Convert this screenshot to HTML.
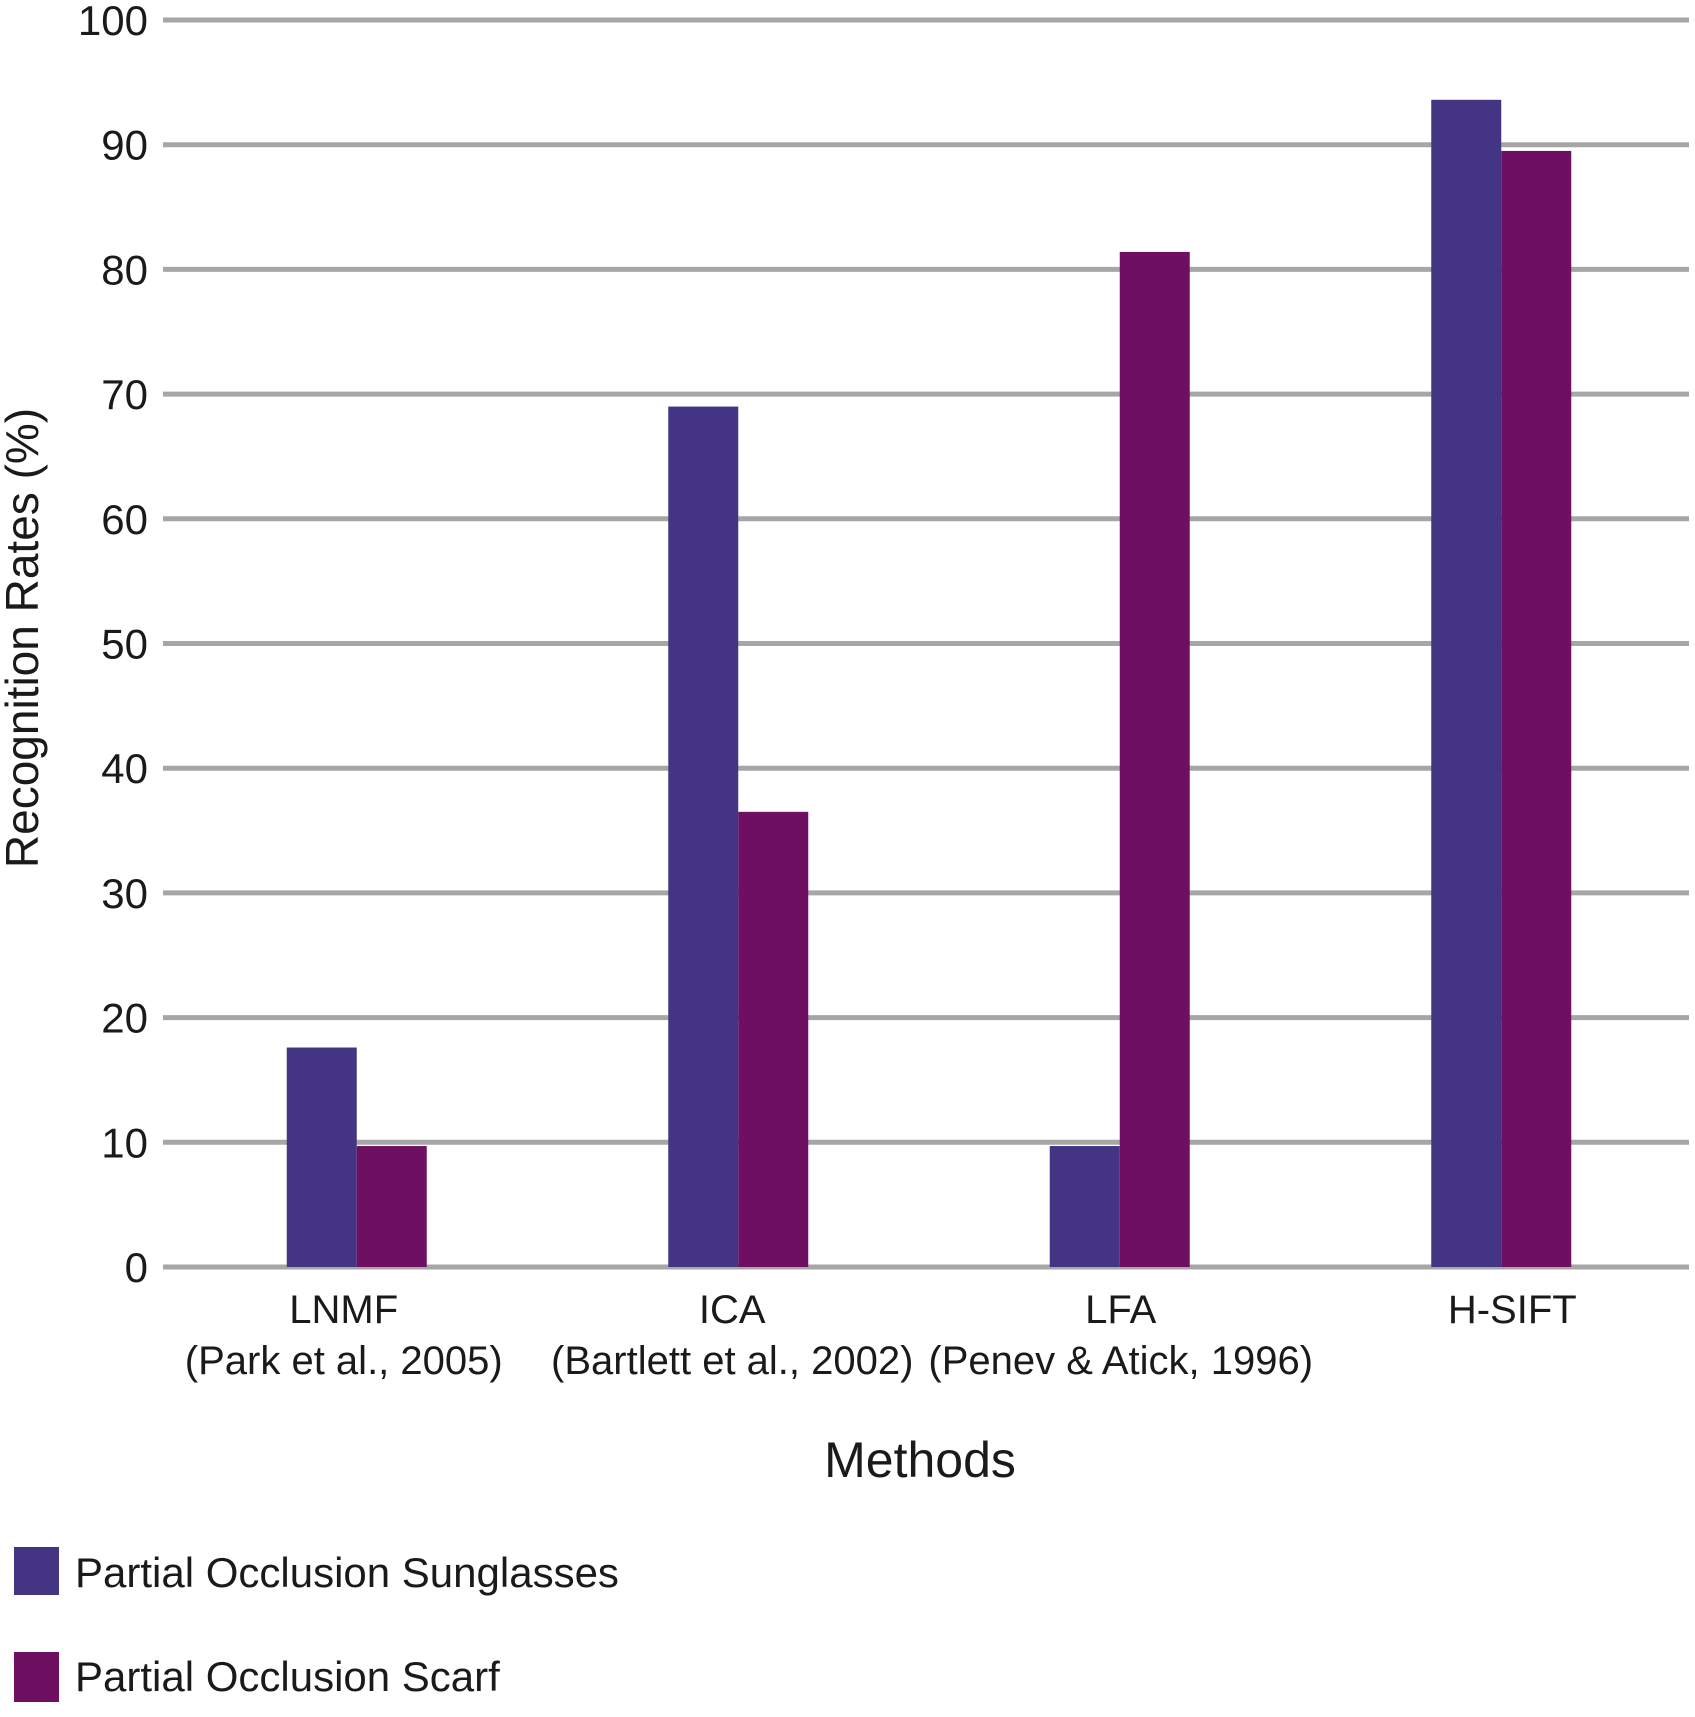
<!DOCTYPE html>
<html><head><meta charset="utf-8"><style>
body{margin:0;background:#fff;}
svg{display:block;font-family:"Liberation Sans",Arial,sans-serif;}
</style></head><body>
<svg id="chart" width="1695" height="1717" viewBox="0 0 1695 1717">
<g id="grid"></g>
<g id="ylabels"></g>
<g id="bars"></g>
<g id="xlabels"></g>
<text x="22" y="638" transform="rotate(-90 22 638)" text-anchor="middle" dominant-baseline="central" font-size="46" fill="#1a1a1a">Recognition Rates (%)</text>
<text x="920" y="1477" text-anchor="middle" font-size="50" fill="#1a1a1a">Methods</text>
<g>
<rect x="14" y="1547" width="45" height="48" fill="#433584"/>
<text x="75" y="1587" font-size="42" fill="#1a1a1a">Partial Occlusion Sunglasses</text>
<rect x="14" y="1652" width="45" height="50" fill="#6e0f62"/>
<text x="75" y="1691" font-size="42" fill="#1a1a1a">Partial Occlusion Scarf</text>
</g>
</svg>
<script>
const categories=["LNMF","ICA","LFA","H-SIFT"];
const subLabels=["(Park et al., 2005)","(Bartlett et al., 2002)","(Penev & Atick, 1996)",""];
const sunglasses=[17.6,69,9.7,93.6];
const scarf=[9.7,36.5,81.4,89.5];
const ticks=[0,10,20,30,40,50,60,70,80,90,100];
const NS="http://www.w3.org/2000/svg";
const x0=163,x1=1689,yTop=20,yBot=1267;
function y(v){return yBot-(v/100)*(yBot-yTop);}
const band=(x1-x0)/categories.length;
function cx(i){return x0+band*(i+0.5)+3;}
const labelShift=[-13,-6,1,11];
const bw=70;
function mk(tag,attrs,parent){const e=document.createElementNS(NS,tag);for(const k in attrs)e.setAttribute(k,attrs[k]);document.getElementById(parent).appendChild(e);return e;}
ticks.forEach(t=>{
 const l=mk('line',{x1:x0,x2:x1,y1:y(t),y2:y(t),stroke:'#a6a6a6','stroke-width':5},'grid');
 
 
 const tx=mk('text',{x:148,y:y(t)+15,'text-anchor':'end','font-size':42,fill:'#1a1a1a'},'ylabels');
 tx.textContent=t;
 
 
});
categories.forEach((c,i)=>{
 const b1=mk('rect',{x:cx(i)-bw,y:y(sunglasses[i]),width:bw,height:yBot-y(sunglasses[i]),fill:'#433584'},'bars');
 
 
 const b2=mk('rect',{x:cx(i),y:y(scarf[i]),width:bw,height:yBot-y(scarf[i]),fill:'#6e0f62'},'bars');
 
 
 const lx=cx(i)+labelShift[i];
 const t1=mk('text',{x:lx,y:1323,'text-anchor':'middle','font-size':40,fill:'#1a1a1a'},'xlabels');
 t1.textContent=c;
 
 
 if(subLabels[i]){
 const t2=mk('text',{x:lx,y:1374,'text-anchor':'middle','font-size':40,fill:'#1a1a1a'},'xlabels');
 t2.textContent=subLabels[i];
 
 
 }
});
</script>
</body></html>
